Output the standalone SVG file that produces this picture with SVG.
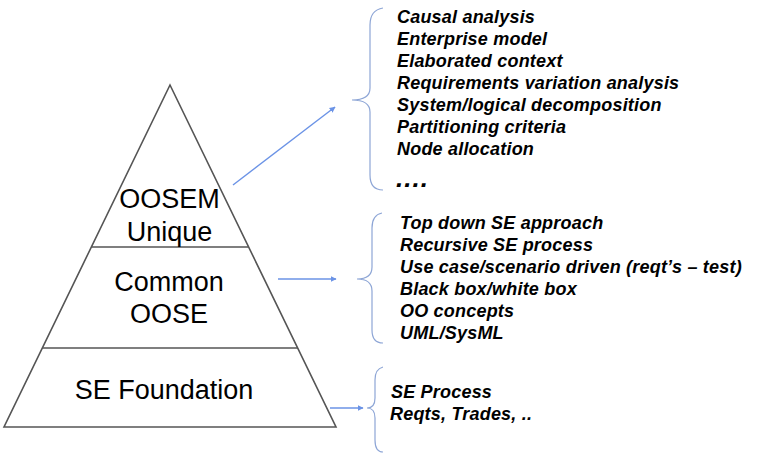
<svg xmlns="http://www.w3.org/2000/svg" width="758" height="453" viewBox="0 0 758 453">
<style>
.tier{font-family:"Liberation Sans",Arial,sans-serif;font-size:27px;fill:#000;text-anchor:middle}
.item{font-family:"Liberation Sans",Arial,sans-serif;font-size:18px;font-weight:bold;font-style:italic;fill:#000;letter-spacing:0.2px}
.edge{stroke:#555;stroke-width:1.6;fill:none}
.brace{stroke:#8ea6d6;stroke-width:1.2;fill:none}
.arrow{stroke:#6b93e6;stroke-width:1.4;fill:none;marker-end:url(#ah)}
</style>
<defs>
<marker id="ah" viewBox="0 0 10 10" refX="9" refY="5" markerWidth="6" markerHeight="6" markerUnits="userSpaceOnUse" orient="auto"><path d="M0,0 L10,5 L0,10 z" fill="#6b93e6"/></marker>
</defs>
<rect width="758" height="453" fill="#fff"/>
<g id="pyramid">
<path class="edge" d="M170,85 L336,427 L4,427 Z" fill="#fff"/>
</g>
<g id="tier-oosem">
<line class="edge" x1="91.4" y1="247" x2="248.6" y2="247"/>
<text class="tier" x="169.5" y="208">OOSEM</text>
<text class="tier" x="169.5" y="241">Unique</text>
</g>
<g id="tier-common">
<line class="edge" x1="42.3" y1="348" x2="297.7" y2="348"/>
<text class="tier" x="169" y="291">Common</text>
<text class="tier" x="169" y="323">OOSE</text>
</g>
<g id="tier-se">
<text class="tier" x="164" y="399">SE Foundation</text>
</g>
<g id="list-oosem">
<path class="brace" d="M383,8 Q370,10 370,25 L370,88 Q370,100 352,100 Q370,100 370,112 L370,175 Q370,190 383,190"/>
<text class="item" x="397" y="23">Causal analysis</text>
<text class="item" x="397" y="45">Enterprise model</text>
<text class="item" x="397" y="67">Elaborated context</text>
<text class="item" x="397" y="89">Requirements variation analysis</text>
<text class="item" x="397" y="111">System/logical decomposition</text>
<text class="item" x="397" y="133">Partitioning criteria</text>
<text class="item" x="397" y="155">Node allocation</text>
<text class="item" x="396" y="187" style="font-size:26px;letter-spacing:1px">....</text>
</g>
<g id="list-common">
<path class="brace" d="M382,213 Q372,215 372,228 L372,267 Q372,279 357,279 Q372,279 372,291 L372,330 Q372,343 383,343"/>
<text class="item" x="400" y="229">Top down SE approach</text>
<text class="item" x="400" y="251">Recursive SE process</text>
<text class="item" x="400" y="273">Use case/scenario driven (reqt’s – test)</text>
<text class="item" x="400" y="295">Black box/white box</text>
<text class="item" x="400" y="317">OO concepts</text>
<text class="item" x="400" y="339">UML/SysML</text>
</g>
<g id="list-se">
<path class="brace" d="M383,367 Q375,369 375,380 L375,398 Q375,408 367,408 Q375,408 375,418 L375,440 Q375,452 383,452"/>
<text class="item" x="391" y="398">SE Process</text>
<text class="item" x="390" y="420">Reqts, Trades, ..</text>
</g>
<g id="connectors">
<line class="arrow" x1="233" y1="185" x2="335" y2="107"/>
<line class="arrow" x1="278" y1="279" x2="336" y2="279"/>
<line class="arrow" x1="330" y1="408" x2="363" y2="408"/>
</g>
</svg>
